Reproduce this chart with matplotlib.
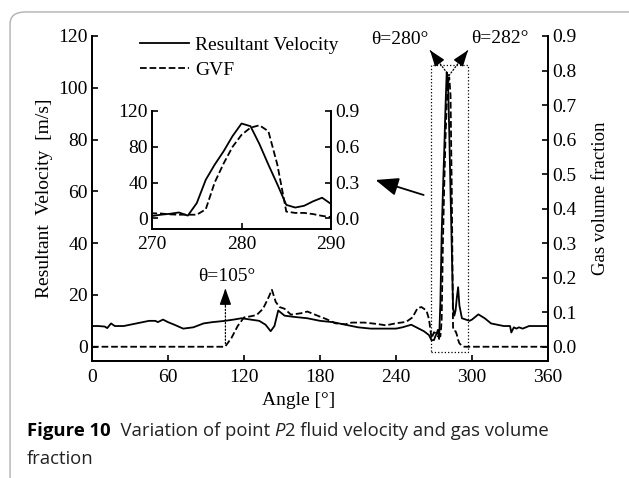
import matplotlib
matplotlib.use("Agg")
import matplotlib.pyplot as plt
from matplotlib.patches import FancyBboxPatch, Rectangle

# resultant velocity [m/s] vs angle [deg]
vel_angle = [0, 5, 10, 12, 15, 18, 25, 35, 45, 50, 52, 56, 60, 65, 72, 80, 88, 95,
             105, 112, 118, 125, 132, 137, 141, 144, 147, 152, 160, 170, 180, 190,
             200, 210, 220, 230, 240, 245, 252, 258, 262, 266, 268, 270, 271, 272,
             273, 274, 275, 276, 277, 278, 279, 280, 281, 282, 283, 284, 285, 286,
             287, 288, 289, 290, 292, 295, 298, 300, 305, 310, 315, 320, 325, 330,
             331, 333, 335, 337, 340, 345, 350, 360]
velocity = [8, 8, 7.8, 7.2, 9, 8, 8, 9, 10, 10, 9.5, 10.5, 9.5, 8.5, 7, 7.5, 9, 9.5,
            10, 10.5, 11, 10.5, 10, 8.5, 6, 8, 14, 12, 11.5, 11, 10, 9.5,
            8.5, 7.5, 7, 7, 7, 7.5, 8.5, 7, 6, 4.5, 2.5, 2.6, 4, 5,
            6.5, 3, 17, 43, 60, 75, 92, 106, 103, 83, 60, 38, 15, 12,
            14, 19, 23, 16, 11, 10.5, 10, 10.5, 12.5, 11, 9, 8.5, 8, 8,
            5.5, 7.5, 7, 7.5, 7, 8, 8, 8]

# gas volume fraction vs angle [deg]
gvf_angle = [0, 105, 110, 115, 120, 125, 130, 135, 139, 142, 145, 148, 152, 157, 165,
             170, 178, 185, 192, 200, 205, 215, 225, 232, 240, 248, 253, 257, 260,
             264, 266, 268, 270, 271, 272, 273, 274, 275, 276, 277, 278, 279, 280,
             281, 282, 283, 284, 285, 286, 287, 288, 289, 290, 292, 294, 360]
gvf = [0, 0, 0.025, 0.06, 0.085, 0.088, 0.092, 0.11, 0.14, 0.165, 0.13, 0.115, 0.11,
       0.093, 0.097, 0.102, 0.09, 0.08, 0.068, 0.065, 0.07, 0.07, 0.066, 0.062, 0.068,
       0.072, 0.085, 0.112, 0.115, 0.105, 0.08, 0.025, 0.042, 0.04, 0.033, 0.03, 0.03,
       0.03, 0.075, 0.3, 0.46, 0.6, 0.7, 0.76, 0.78, 0.73, 0.45, 0.056, 0.045, 0.045,
       0.035, 0.02, 0.01, 0.003, 0, 0]

x_ticks = [0, 60, 120, 180, 240, 300, 360]
v_ticks = [0, 20, 40, 60, 80, 100, 120]
g_ticks = [0.0, 0.1, 0.2, 0.3, 0.4, 0.5, 0.6, 0.7, 0.8, 0.9]

plt.rcParams['font.family'] = 'Liberation Serif'
plt.rcParams['font.size'] = 14
plt.rcParams['xtick.direction'] = 'in'
plt.rcParams['ytick.direction'] = 'in'
plt.rcParams['axes.linewidth'] = 1.3

fig = plt.figure(figsize=(6.29, 4.78), dpi=100)

# rounded frame around the figure
frame = FancyBboxPatch((0.016, -0.2), 1.2, 1.175, boxstyle="round,pad=0,rounding_size=0.025",
                       transform=fig.transFigure, fc='none', ec='#b0b0b0', lw=1.0)
fig.patches.append(frame)

ax = fig.add_axes([0.1463, 0.2448, 0.7250, 0.6799])
ax2 = ax.twinx()

l1, = ax.plot(vel_angle, velocity, 'k-', lw=1.3, label='Resultant Velocity')
l2, = ax2.plot(gvf_angle, gvf, 'k--', lw=1.3, label='GVF')

ax.set_xlim(0, 360)
ax.set_ylim(-5.5, 120)
ax2.set_ylim(-5.5 * 0.0075, 0.9)
ax.set_xticks(x_ticks)
ax.set_yticks(v_ticks)
ax2.set_yticks(g_ticks)
ax2.set_yticklabels(['%.1f' % t for t in g_ticks])
for a in (ax, ax2):
    a.spines['top'].set_visible(False)
    a.tick_params(length=4, width=1.2, pad=3)
ax.tick_params(axis='x', pad=6)
ax.set_xlabel('Angle [°]', x=0.454, labelpad=4)
ax.set_ylabel('Resultant  Velocity  [m/s]', labelpad=4)
ax2.set_ylabel('Gas volume fraction', fontsize=13.5, labelpad=11)

ax.legend([l1, l2], ['Resultant Velocity', 'GVF'], loc='upper left', frameon=False,
          bbox_to_anchor=(140 / 629, 1 - 36 / 478), bbox_transform=fig.transFigure,
          borderpad=0, borderaxespad=0, handlelength=2.5, handletextpad=0.35,
          labelspacing=0.38)

# dotted box around the peak
ax.add_patch(Rectangle((267.3, -2.2), 29.3, 111, fill=False, ls=':', lw=0.9, ec='k'))

# peak angle annotations
for tip in [(266.8, 114.5), (296.8, 114.5)]:
    ax.annotate('', xy=tip, xytext=(281.8, 104.7),
                arrowprops=dict(arrowstyle='-', ls=':', lw=0.9, color='k',
                                shrinkA=0, shrinkB=0))
    ax.annotate('', xy=tip, xytext=(281.8 + (tip[0] - 281.8) * 0.7, 104.7 + (tip[1] - 104.7) * 0.7),
                arrowprops=dict(arrowstyle='-|>,head_length=0.7,head_width=0.25', lw=1.0,
                                color='k', shrinkA=0, shrinkB=0))
ax.text(243, 118.5, 'θ=280°', ha='center', va='center', fontsize=14)
ax.text(322, 119, 'θ=282°', ha='center', va='center', fontsize=14)

# GVF onset annotation
ax.annotate('', xy=(105.3, 22), xytext=(105.3, 1.2),
            arrowprops=dict(arrowstyle='-', ls=':', lw=0.9, color='k', shrinkA=0, shrinkB=0))
ax.annotate('', xy=(105.3, 22.5), xytext=(105.3, 16),
            arrowprops=dict(arrowstyle='-|>,head_length=0.7,head_width=0.25', lw=1.0,
                            color='k', shrinkA=0, shrinkB=0))
ax.text(106, 27, 'θ=105°', ha='center', va='center', fontsize=14)

# arrow to inset
ax.annotate('', xy=(223.8, 64.4), xytext=(261.8, 58.6),
            arrowprops=dict(arrowstyle='-|>,head_length=1.0,head_width=0.4', lw=1.3,
                            color='k', shrinkA=0, shrinkB=0))

# inset zoom of the peak
ins = fig.add_axes([0.2417, 0.5209, 0.2846, 0.2469])
ins2 = ins.twinx()
ins.plot(vel_angle, velocity, 'k-', lw=1.3)
ins2.plot(gvf_angle, gvf, 'k--', lw=1.3)
ins.set_xlim(270, 290)
ins.set_ylim(-12, 120)
ins2.set_ylim(-0.09, 0.9)
ins.set_xticks([270, 280, 290])
ins.set_yticks([0, 40, 80, 120])
ins2.set_yticks([0.0, 0.3, 0.6, 0.9])
ins2.set_yticklabels(['0.0', '0.3', '0.6', '0.9'])
for a in (ins, ins2):
    a.spines['top'].set_visible(False)
    a.tick_params(length=4, width=1.2, pad=3)
    a.patch.set_visible(False)
ins.tick_params(axis='x', pad=5)

# caption
r = fig.canvas.get_renderer()
cap_y = 1 - 431 / 478
cap_font = 'Open Sans'
fs = 13.3
x0 = 27 / 629
t = fig.text(x0, cap_y, 'Figure 10', fontfamily=cap_font, fontweight='bold', fontsize=fs, va='center')
parts = [('  Variation of point ', 'normal'), ('P', 'italic'),
         ('2 fluid velocity and gas volume', 'normal')]
x = t.get_window_extent(r).x1 / fig.bbox.width
for s, style in parts:
    tt = fig.text(x, cap_y, s, fontfamily=cap_font, fontstyle=style, fontsize=fs,
                  va='center', color='#222222')
    x = tt.get_window_extent(r).x1 / fig.bbox.width
fig.text(x0, 1 - 459 / 478, 'fraction', fontfamily=cap_font, fontsize=fs, va='center',
         color='#222222')

fig.savefig('out.png', dpi=100)
